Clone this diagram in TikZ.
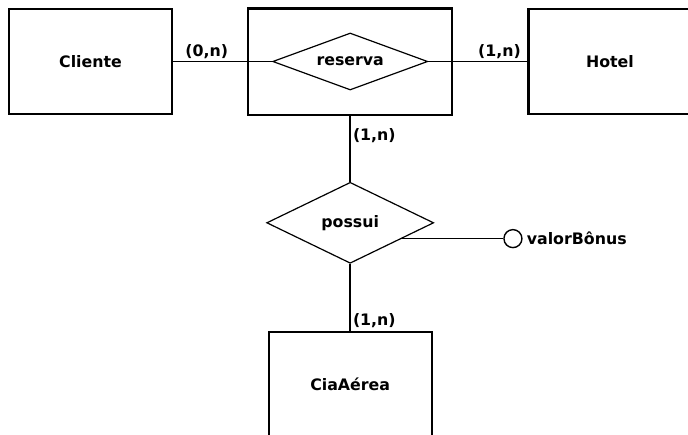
\documentclass[tikz,border=0pt]{standalone}
\usepackage{fontspec}
\setmainfont{DejaVu Sans}
\usepackage{tikz}
\usetikzlibrary{shapes.geometric, positioning, fit}

\begin{document}
\begin{tikzpicture}[
  x=1pt, y=-1pt,
  every node/.style={font=\fontsize{15.8}{18}\selectfont\bfseries},
  entity/.style={draw, line width=2.2pt, minimum width=163pt, minimum height=105pt,
              inner sep=0pt},
  rel/.style={draw, diamond, line width=1.2pt, inner sep=0pt},
  agg/.style={draw, line width=2.2pt, inner xsep=24pt, inner ysep=24pt},
  attrib/.style={draw, circle, line width=1.4pt, minimum size=18pt, inner sep=0pt},
  conn/.style={line width=1.6pt},
  card/.style={inner sep=2pt}
]
\useasboundingbox (0,0) rectangle (688,434);

\node[entity] (cliente) at (90.5,61.5) {Cliente};
\node[rel, minimum width=155pt, minimum height=57pt, aspect=2.7,
      right=99pt of cliente] (reserva) {reserva};
\node[entity, right=99pt of reserva] (hotel) {Hotel};
\node[agg, fit=(reserva)] (reservaagg) {};

\node[rel, minimum width=167pt, minimum height=81pt, aspect=2.06,
      below=66pt of reservaagg] (possui) {possui};
\node[attrib] (bonus) at ([xshift=111pt]possui.-17.5) {};
\node[right=3pt of bonus, inner sep=1pt] (bonuslbl) {valorBônus};
\node[entity, below=67pt of possui] (ciaaerea) {CiaAérea};

\draw[conn] (cliente)    -- node[card, pos=.34, above] {(0,n)} (reserva);
\draw[conn] (reserva)    -- node[card, pos=.72, above] {(1,n)} (hotel);
\draw[conn] (reservaagg) -- node[card, pos=.3, right] {(1,n)} (possui);
\draw[conn] (possui)     -- node[card, pos=1, above right] {(1,n)} (ciaaerea);
\draw[conn] (possui.-17.5) -- (bonus);

\end{tikzpicture}
\end{document}
